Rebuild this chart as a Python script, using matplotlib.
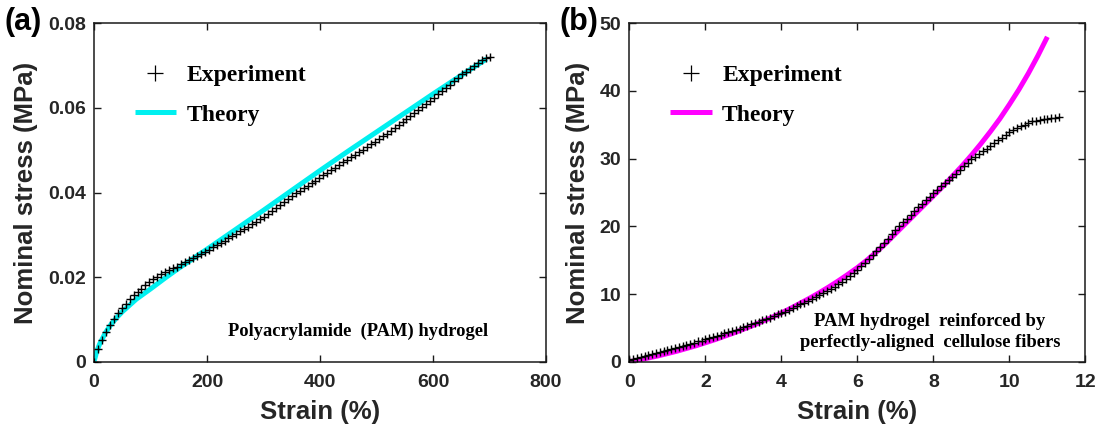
import matplotlib
matplotlib.use("Agg")
import matplotlib.pyplot as plt

# ---------------- Panel (a): PAM hydrogel ----------------
a_exp_strain = [0, 7, 14, 21, 28, 35, 42, 49, 56, 63, 70, 77, 84, 91, 98, 105, 112, 119, 126, 133,
                140, 147, 154, 161, 168, 175, 182, 189, 196, 203, 210, 217, 224, 231, 238, 245, 252,
                259, 266, 273, 280, 287, 294, 301, 308, 315, 322, 329, 336, 343, 350, 357, 364, 371,
                378, 385, 392, 399, 406, 413, 420, 427, 434, 441, 448, 455, 462, 469, 476, 483, 490,
                497, 504, 511, 518, 525, 532, 539, 546, 553, 560, 567, 574, 581, 588, 595, 602, 609,
                616, 623, 630, 637, 644, 651, 658, 665, 672, 679, 686, 693, 700]
a_exp_stress = [0.0000, 0.0030, 0.0052, 0.0070, 0.0086, 0.0100, 0.0114, 0.0126, 0.0137, 0.0148,
                0.0157, 0.0165, 0.0173, 0.0181, 0.0188, 0.0195, 0.0201, 0.0207, 0.0212, 0.0216,
                0.0221, 0.0225, 0.0230, 0.0235, 0.0240, 0.0245, 0.0250, 0.0255, 0.0260, 0.0265,
                0.0270, 0.0275, 0.0281, 0.0286, 0.0292, 0.0297, 0.0303, 0.0308, 0.0314, 0.0319,
                0.0325, 0.0331, 0.0337, 0.0343, 0.0350, 0.0357, 0.0363, 0.0370, 0.0377, 0.0384,
                0.0391, 0.0398, 0.0404, 0.0410, 0.0416, 0.0422, 0.0428, 0.0434, 0.0441, 0.0447,
                0.0453, 0.0459, 0.0465, 0.0471, 0.0477, 0.0483, 0.0489, 0.0495, 0.0501, 0.0508,
                0.0514, 0.0520, 0.0527, 0.0533, 0.0539, 0.0546, 0.0552, 0.0559, 0.0566, 0.0573,
                0.0580, 0.0587, 0.0594, 0.0601, 0.0609, 0.0616, 0.0624, 0.0632, 0.0640, 0.0647,
                0.0655, 0.0663, 0.0671, 0.0679, 0.0686, 0.0693, 0.0700, 0.0707, 0.0713, 0.0718,
                0.0720]
a_th_strain = [0, 5, 10, 20, 30, 40, 50, 60, 75, 100, 125, 150, 200, 250, 300, 350, 400, 450,
               500, 550, 600, 650, 695]
a_th_stress = [0.0, 0.0025, 0.0042, 0.0068, 0.0088, 0.0104, 0.0118, 0.0130, 0.0148, 0.0172,
               0.0197, 0.0221, 0.0266, 0.0312, 0.0358, 0.0405, 0.0452, 0.0498, 0.0543, 0.0588,
               0.0633, 0.0677, 0.0716]
a_xticks = [0, 200, 400, 600, 800]
a_yticks = [0, 0.02, 0.04, 0.06, 0.08]
a_yticklabels = ["0", "0.02", "0.04", "0.06", "0.08"]

# ---------------- Panel (b): reinforced hydrogel ----------------
b_exp_strain = [0.0, 0.1, 0.2, 0.3, 0.4, 0.5, 0.6, 0.7, 0.8, 0.9, 1.0, 1.1, 1.2, 1.3, 1.4, 1.5,
                1.6, 1.7, 1.8, 1.9, 2.0, 2.1, 2.2, 2.3, 2.4, 2.5, 2.6, 2.7, 2.8, 2.9, 3.0, 3.1,
                3.2, 3.3, 3.4, 3.5, 3.6, 3.7, 3.8, 3.9, 4.0, 4.1, 4.2, 4.3, 4.4, 4.5, 4.6, 4.7,
                4.8, 4.9, 5.0, 5.1, 5.2, 5.3, 5.4, 5.5, 5.6, 5.7, 5.8, 5.9, 6.0, 6.1, 6.2, 6.3,
                6.4, 6.5, 6.6, 6.7, 6.8, 6.9, 7.0, 7.1, 7.2, 7.3, 7.4, 7.5, 7.6, 7.7, 7.8, 7.9,
                8.0, 8.1, 8.2, 8.3, 8.4, 8.5, 8.6, 8.7, 8.8, 8.9, 9.0, 9.1, 9.2, 9.3, 9.4, 9.5,
                9.6, 9.7, 9.8, 9.9, 10.0, 10.1, 10.2, 10.3, 10.4, 10.5, 10.6, 10.7, 10.8, 10.9,
                11.0, 11.1, 11.2, 11.3]
b_exp_stress = [0.3, 0.4, 0.6, 0.7, 0.9, 1.0, 1.1, 1.3, 1.4, 1.6, 1.7, 1.9, 2.0, 2.2, 2.3, 2.5,
                2.6, 2.8, 3.0, 3.1, 3.3, 3.5, 3.7, 3.8, 4.0, 4.2, 4.4, 4.5, 4.7, 4.9, 5.1, 5.3,
                5.5, 5.7, 5.9, 6.1, 6.3, 6.5, 6.7, 7.0, 7.2, 7.4, 7.7, 7.9, 8.2, 8.5, 8.7, 9.0,
                9.3, 9.6, 9.9, 10.2, 10.5, 10.8, 11.1, 11.5, 11.8, 12.2, 12.6, 13.1, 13.6, 14.1,
                14.6, 15.2, 15.7, 16.3, 16.9, 17.5, 18.1, 18.8, 19.4, 20.0, 20.6, 21.1, 21.7,
                22.3, 22.8, 23.3, 23.9, 24.4, 24.9, 25.4, 25.9, 26.4, 26.8, 27.3, 27.8, 28.3,
                28.9, 29.4, 29.9, 30.3, 30.7, 31.1, 31.5, 31.9, 32.3, 32.7, 33.1, 33.5, 33.9,
                34.2, 34.5, 34.8, 35.0, 35.3, 35.5, 35.6, 35.7, 35.8, 35.9, 36.0, 36.0, 36.1]
b_th_strain = [0, 0.25, 0.5, 0.75, 1.0, 1.25, 1.5, 1.75, 2.0, 2.25, 2.5, 2.75, 3.0, 3.25, 3.5,
               3.75, 4.0, 4.25, 4.5, 4.75, 5.0, 5.25, 5.5, 5.75, 6.0, 6.25, 6.5, 6.75, 7.0, 7.25,
               7.5, 7.75, 8.0, 8.25, 8.5, 8.75, 9.0, 9.25, 9.5, 9.75, 10.0, 10.25, 10.5, 10.75, 11.0]
b_th_stress = [0.0, 0.25, 0.55, 0.85, 1.2, 1.55, 1.95, 2.35, 2.8, 3.25, 3.75, 4.25, 4.8, 5.35,
               5.95, 6.55, 7.2, 7.9, 8.65, 9.4, 10.2, 11.05, 11.95, 12.9, 13.9, 15.0, 16.2,
               17.5, 18.9, 20.3, 21.7, 23.1, 24.5, 25.9, 27.4, 28.9, 30.5, 32.2, 34.0, 35.9,
               38.0, 40.2, 42.6, 45.2, 48.0]
b_xticks = [0, 2, 4, 6, 8, 10, 12]
b_yticks = [0, 10, 20, 30, 40, 50]

series_labels = ["Experiment", "Theory"]
panel_labels = ["(a)", "(b)"]
xlabel = "Strain (%)"
ylabel = "Nominal stress (MPa)"
note_a = "Polyacrylamide  (PAM) hydrogel"
note_b = "PAM hydrogel  reinforced by\nperfectly-aligned  cellulose fibers"

SANS = ["Liberation Sans", "DejaVu Sans"]
SERIF = ["Liberation Serif", "DejaVu Serif"]
TICKC = "#262626"

fig = plt.figure(figsize=(11.10, 4.34), dpi=100)
ax_a = fig.add_axes([0.0847, 0.1666, 0.4072, 0.7797])
ax_b = fig.add_axes([0.5670, 0.1666, 0.4108, 0.7797])


def style(ax, xticks, yticks, xlim, ylim, yticklabels=None):
    ax.set_xlim(*xlim)
    ax.set_ylim(*ylim)
    ax.set_xticks(xticks)
    ax.set_yticks(yticks)
    ax.set_xticklabels([str(t) for t in xticks])
    if yticklabels is None:
        yticklabels = [str(t) for t in yticks]
    ax.set_yticklabels(yticklabels)
    ax.tick_params(direction="in", length=5, width=1, top=True, right=True,
                   colors="#1a1a1a", labelcolor=TICKC)
    ax.tick_params(axis="x", pad=9)
    ax.tick_params(axis="y", pad=6)
    for lab in ax.get_xticklabels() + ax.get_yticklabels():
        lab.set_family(SANS)
        lab.set_fontweight("bold")
        lab.set_fontsize(14)
    for sp in ax.spines.values():
        sp.set_linewidth(1.1)
        sp.set_color("#1a1a1a")
    ax.set_xlabel(xlabel, family=SANS, fontweight="bold", fontsize=18.5, color=TICKC, labelpad=6)
    ax.set_ylabel(ylabel, family=SANS, fontweight="bold", fontsize=18.5, color=TICKC, labelpad=7)


# panel (a)
ax_a.plot(a_th_strain, a_th_stress, color="#00f0f0", lw=3.6, label=series_labels[1], zorder=2,
          solid_capstyle="butt")
ax_a.plot(a_exp_strain, a_exp_stress, ls="none", marker="+", ms=5.5, mew=1.0, color="black",
          label=series_labels[0], zorder=3)
style(ax_a, a_xticks, a_yticks, (0, 800), (0, 0.08), a_yticklabels)
ax_a.text(0.585, 0.089, note_a, transform=ax_a.transAxes, ha="center", va="center",
          family=SERIF, fontweight="bold", fontsize=13.3)

# panel (b)
ax_b.plot(b_th_strain, b_th_stress, color="#ff00ff", lw=3.6, label=series_labels[1], zorder=2,
          solid_capstyle="butt")
ax_b.plot(b_exp_strain, b_exp_stress, ls="none", marker="+", ms=5.5, mew=1.0, color="black",
          label=series_labels[0], zorder=3)
style(ax_b, b_xticks, b_yticks, (0, 12), (0, 50))
ax_b.text(0.659, 0.087, note_b, transform=ax_b.transAxes, ha="center", va="center",
          family=SERIF, fontweight="bold", fontsize=13.4, linespacing=1.3)

for ax in (ax_a, ax_b):
    h, l = ax.get_legend_handles_labels()
    order = [1, 0]
    leg = ax.legend([h[i] for i in order], [l[i] for i in order], loc="upper left",
                    bbox_to_anchor=(0.043, 0.94), frameon=False, handlelength=1.75,
                    handletextpad=0.45, labelspacing=0.75,
                    prop={"family": SERIF, "weight": "bold", "size": 17})
    leg.legend_handles[0].set_markersize(11)
    leg.legend_handles[0].set_markeredgewidth(0.9)

fig.text(0.004, 0.95, panel_labels[0], family=SANS, fontweight="bold", fontsize=22, va="center")
fig.text(0.504, 0.95, panel_labels[1], family=SANS, fontweight="bold", fontsize=22, va="center")

fig.savefig("out.png", dpi=100)
